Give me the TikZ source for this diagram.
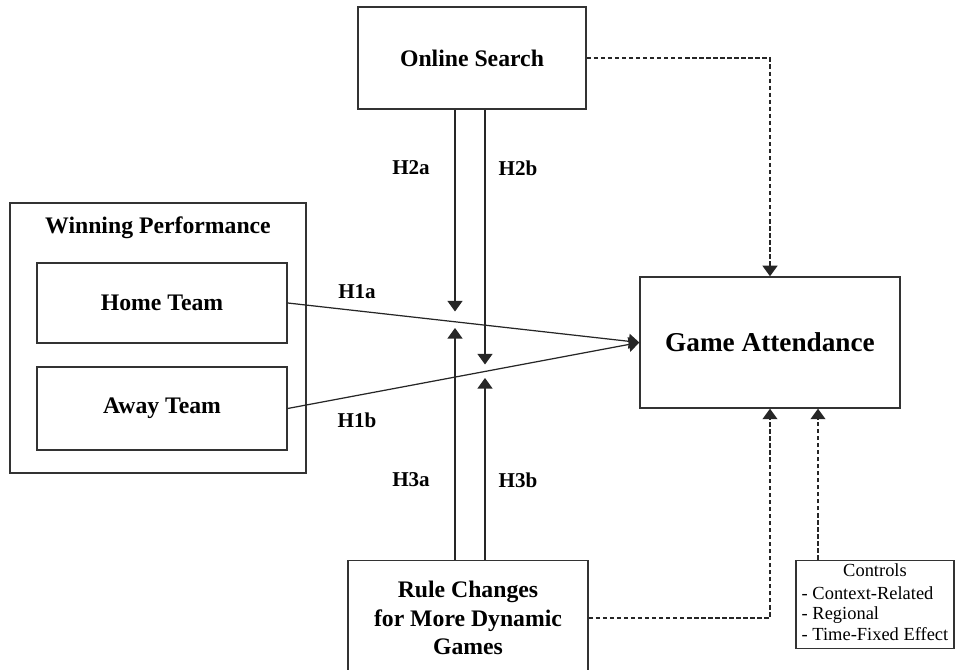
\documentclass[tikz,border=0pt]{standalone}
\usepackage{fontspec}
\setmainfont{Liberation Serif}
\usetikzlibrary{arrows.meta, positioning}

\begin{document}
\begin{tikzpicture}[
    box/.style={draw=black!80, line width=0.8pt, minimum width=#1, inner sep=2pt},
    bigtxt/.style={font=\fontsize{13.5}{16}\selectfont\bfseries, align=center},
    htxt/.style={font=\fontsize{12}{14}\selectfont\bfseries},
    link/.style={draw=black!85, line width=0.7pt, -{Triangle[width=8.5pt, length=6pt]}},
    ctrl/.style={link, dashed, dash pattern=on 2.5pt off 1.5pt}
  ]
  \useasboundingbox (0, 0) rectangle (19.1, 13.4);

  \node[box=4.56cm, minimum height=2.04cm, bigtxt] (search) at (9.44, 12.24) {Online Search};
  \node[box=5.92cm, minimum height=5.4cm] (win) at (3.16, 6.64) {};
  \node[bigtxt] (wintitle) at (3.16, 8.84) {Winning Performance};
  \node[box=5.0cm, minimum height=1.6cm, bigtxt] (home) at (3.24, 7.34) {Home Team};
  \node[box=5.0cm, minimum height=1.66cm, bigtxt] (away) at (3.24, 5.23) {Away Team};
  \node[box=5.2cm, minimum height=2.62cm, font=\fontsize{15.5}{18}\selectfont\bfseries] (game) at (15.4, 6.55) {Game Attendance};
  \node[box=4.8cm, minimum height=2.3cm, bigtxt] (rule) at (9.36, 1.04) {Rule Changes\\for More Dynamic\\Games};
  \node[box=3.16cm, minimum height=1.7cm, inner sep=1pt, font=\fontsize{10.5}{11.8}\selectfont] (controls) at (17.5, 1.31)
    {\begin{tabular}{@{}l@{}}\multicolumn{1}{@{}c@{}}{Controls}\\[1pt] - Context-Related\\ - Regional\\ - Time-Fixed Effect\end{tabular}};

  \coordinate (h2a) at (9.1, 7.17);
  \coordinate (h2b) at (9.7, 6.11);
  \coordinate (h3a) at (9.1, 6.84);
  \coordinate (h3b) at (9.7, 5.84);
  \coordinate (cx) at (16.36, 0);

  \node[htxt] (l1a) at (7.14, 7.56) {H1a};
  \node[htxt] (l1b) at (7.14, 5.0) {H1b};
  \node[htxt] (l2a) at (8.22, 10.04) {H2a};
  \node[htxt] (l2b) at (10.36, 10.04) {H2b};
  \node[htxt] (l3a) at (8.22, 3.8) {H3a};
  \node[htxt] (l3b) at (10.36, 3.8) {H3b};

  \draw[link] (home.east) -- (game.west);
  \draw[link] (away.east) -- (game.west);
  \draw[link] (h2a |- search.south) -- (h2a);
  \draw[link] (h2b |- search.south) -- (h2b);
  \draw[link] (h3a |- rule.north) -- (h3a);
  \draw[link] (h3b |- rule.north) -- (h3b);
  \draw[ctrl] (search.east) -| (game.north);
  \draw[ctrl] (rule.east) -| (game.south);
  \draw[ctrl] (cx |- controls.north) -- (cx |- game.south);
\end{tikzpicture}
\end{document}
